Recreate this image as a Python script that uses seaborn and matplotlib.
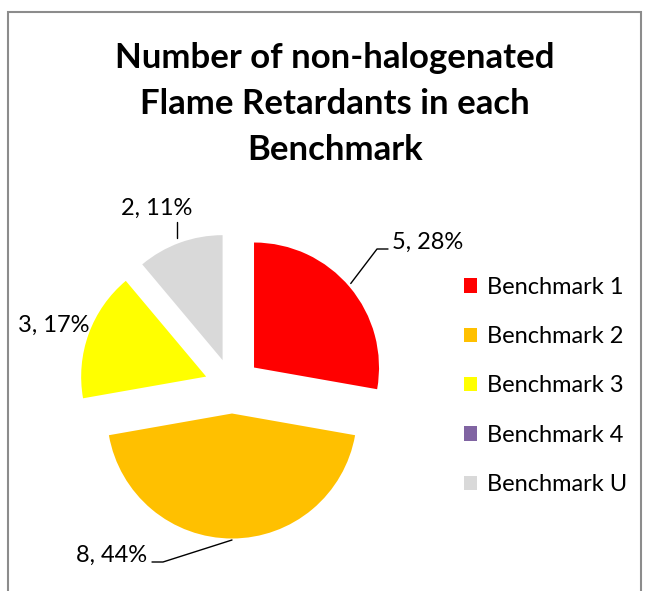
import matplotlib
matplotlib.use("Agg")
import matplotlib.pyplot as plt
import seaborn as sns
from matplotlib.patches import Patch, Rectangle

# data
categories = ['Benchmark 1', 'Benchmark 2', 'Benchmark 3', 'Benchmark 4', 'Benchmark U']
counts = [5, 8, 3, 0, 2]
colors = ['#FF0000', '#FFC000', '#FFFF00', '#8064A2', '#D9D9D9']
title = 'Number of non-halogenated\nFlame Retardants in each\nBenchmark'

sns.set_theme(style='white')
plt.rcParams['font.family'] = ['Lato', 'DejaVu Sans']
plt.rcParams['text.color'] = 'black'

W, H = 647, 591
fig = plt.figure(figsize=(W / 100, H / 100), dpi=100)

# pie axes: centre at (232, 386) px, 125 px per unit
cx, cy, scale, half = 232, 386, 125, 1.6
side = 2 * half * scale
ax = fig.add_axes([(cx - side / 2) / W, (H - cy - side / 2) / H, side / W, side / H])

palette = sns.color_palette(colors)
ax.pie(counts, colors=palette, startangle=90, counterclock=False,
       explode=[0.23, 0.22, 0.22, 0.22, 0.22], radius=1,
       wedgeprops=dict(linewidth=0))
ax.set_xlim(-half, half)
ax.set_ylim(-half, half)
ax.set_aspect('equal')
ax.axis('off')

total = sum(counts)
labels = ['%d, %d%%' % (c, round(100 * c / total)) for c in counts]

# data labels with leader lines
fs = 17
ax.text(1.28, 1.152, labels[0], ha='left', va='center', fontsize=fs)
ax.plot([0.95, 1.16, 1.248], [0.82, 1.096, 1.096], color='black', lw=1)
ax.text(-0.68, -1.352, labels[1], ha='right', va='center', fontsize=fs)
ax.plot([0.0, -0.552, -0.64], [-1.232, -1.408, -1.408], color='black', lw=1)
ax.text(-1.144, 0.488, labels[2], ha='right', va='center', fontsize=fs)
ax.text(-0.6, 1.424, labels[4], ha='center', va='center', fontsize=fs)
ax.plot([-0.44, -0.44], [1.312, 1.184], color='black', lw=1)

fig.text(335 / W, 1 - 104 / H, title, ha='center', va='center',
         fontsize=25, fontweight='bold', linespacing=1.52)

handles = [Patch(facecolor=c, edgecolor='none') for c in palette]
fig.legend(handles, categories, loc='center left',
           bbox_to_anchor=(443 / W, 1 - 386 / H), frameon=False,
           fontsize=17, handlelength=0.55, handleheight=0.55,
           handletextpad=0.4, labelspacing=1.2)

fig.add_artist(Rectangle((8 / W, -0.05), (641 - 8) / W, 1 - 12 / H + 0.05,
                         transform=fig.transFigure, fill=False,
                         edgecolor='#8c8c8c', lw=1.5, clip_on=False))

fig.savefig('out.png', dpi=100)
